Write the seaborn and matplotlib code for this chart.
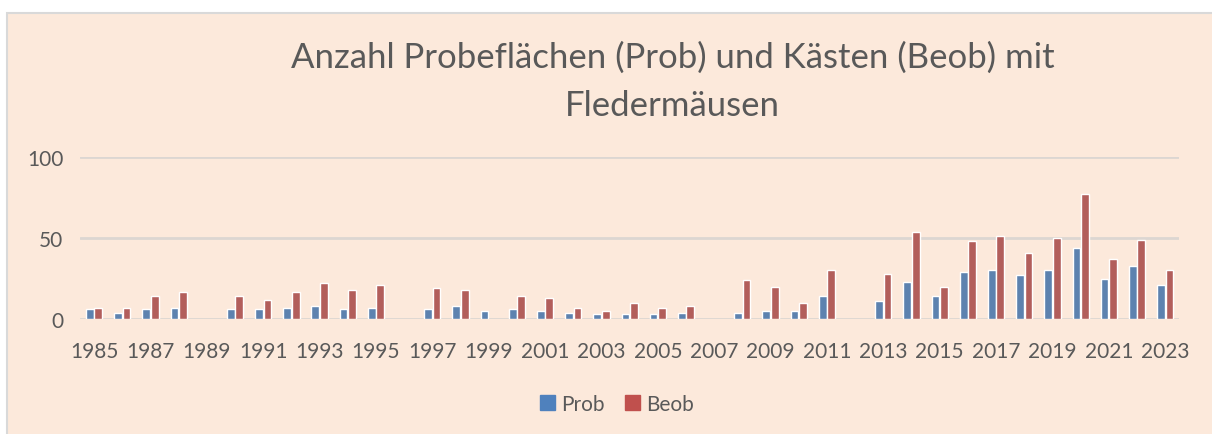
import pandas as pd
import numpy as np
import seaborn as sns
import matplotlib.pyplot as plt
from matplotlib.patches import Rectangle

# Daten
jahre = list(range(1985, 2024))
prob = [6, 4, 6, 7, np.nan, 6, 6, 7, 8, 6, 7, np.nan, 6, 8, 5, 6, 5, 4, 3, 3,
        3, 4, np.nan, 4, 5, 5, 14, np.nan, 11, 23, 14, 29, 30, 27, 30, 44, 25, 33, 21]
beob = [7, 7, 14, 17, np.nan, 14, 12, 17, 22, 18, 21, np.nan, 19, 18, np.nan, 14, 13, 7, 5, 10,
        7, 8, np.nan, 24, 20, 10, 30, np.nan, 28, 54, 20, 48, 51, 41, 50, 77, 37, 49, 30]
serien = ["Prob", "Beob"]
farben = ["#4F81BD", "#C0504D"]
titel = "Anzahl Probeflächen (Prob) und Kästen (Beob) mit\nFledermäusen"

df = pd.DataFrame({"Jahr": jahre * 2,
                   "Anzahl": prob + beob,
                   "Serie": ["Prob"] * len(jahre) + ["Beob"] * len(jahre)})

sns.set_style("white")
plt.rcParams['font.family'] = ['Lato', 'DejaVu Sans']
textfarbe = "#595959"
bg = "#FCE9DB"

fig = plt.figure(figsize=(12.12, 4.35), dpi=100)
fig.patch.set_facecolor("white")
fig.patches.append(Rectangle((7 / 1212, -0.01), 1.0, 1 - 14 / 435 + 0.01,
                             transform=fig.transFigure, facecolor=bg,
                             edgecolor="#D9D9D9", linewidth=1.5, zorder=-5))

ax = fig.add_axes([0.066, 0.264, 0.907, 0.373])
ax.set_facecolor(bg)
sns.barplot(data=df, x="Jahr", y="Anzahl", hue="Serie", hue_order=serien,
            palette=farben, width=0.6, gap=0.08, ax=ax, legend=False)

ax.set_ylim(0, 100)
ax.set_yticks([0, 50, 100])
ax.set_xlim(-0.5, len(jahre) - 0.5)
ax.set_xticks(range(0, len(jahre), 2))
ax.set_xticklabels([str(j) for j in jahre[::2]])
ax.yaxis.grid(True, color="#DCD6D2", linewidth=2)
ax.set_axisbelow(True)
for s in ax.spines.values():
    s.set_visible(False)
ax.tick_params(axis="both", length=0, labelsize=15, colors=textfarbe)
ax.tick_params(axis="x", pad=16)
ax.tick_params(axis="y", pad=12)
ax.set_xlabel("")
ax.set_ylabel("")

fig.text(0.555, 0.812, titel, ha="center", va="center", fontsize=25,
         color=textfarbe, linespacing=1.65)

handles = [Rectangle((0, 0), 1, 1, color=c) for c in farben]
fig.legend(handles, serien, loc="center", bbox_to_anchor=(0.509, 0.069), ncol=2,
           frameon=False, fontsize=15, labelcolor=textfarbe, handlelength=0.7,
           handleheight=0.7, handletextpad=0.3, columnspacing=1.0)

plt.savefig("out.png", dpi=100, facecolor=fig.get_facecolor())
